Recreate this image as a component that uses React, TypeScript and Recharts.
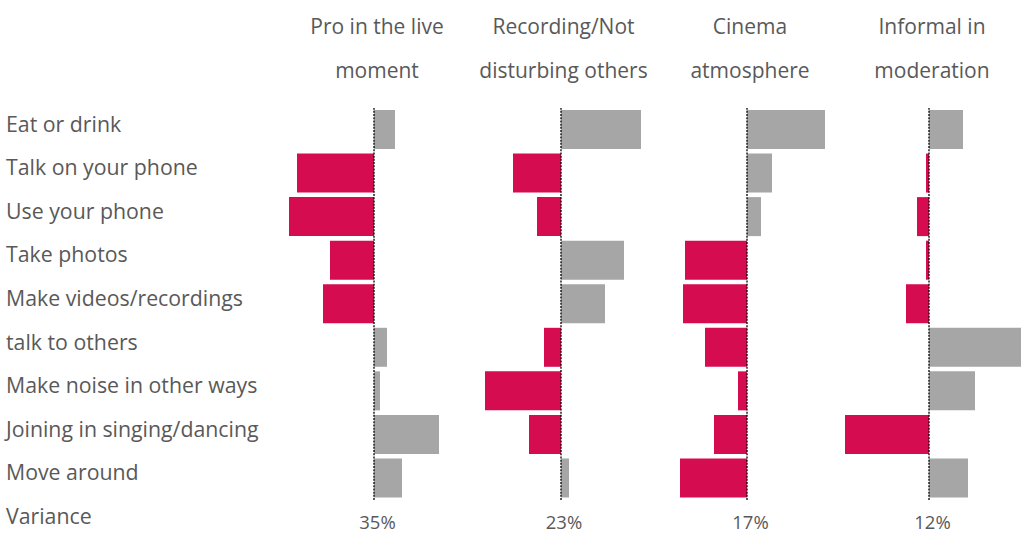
import { BarChart, Bar, XAxis, YAxis, ReferenceLine, Cell } from 'recharts'

const categories = [
  'Eat or drink',
  'Talk on your phone',
  'Use your phone',
  'Take photos',
  'Make videos/recordings',
  'talk to others',
  'Make noise in other ways',
  'Joining in singing/dancing',
  'Move around',
]

const proLive = [0.21, -0.77, -0.85, -0.44, -0.51, 0.13, 0.06, 0.65, 0.28]
const recording = [0.8, -0.48, -0.24, 0.63, 0.44, -0.17, -0.76, -0.32, 0.08]
const cinema = [0.78, 0.25, 0.14, -0.62, -0.64, -0.42, -0.09, -0.33, -0.67]
const informal = [0.34, -0.03, -0.12, -0.03, -0.23, 0.92, 0.46, -0.84, 0.39]

const factorTitles = [
  ['Pro in the live', 'moment'],
  ['Recording/Not', 'disturbing others'],
  ['Cinema', 'atmosphere'],
  ['Informal in', 'moderation'],
]
const variance = ['35%', '23%', '17%', '12%']

const NEG = '#D60C51'
const POS = '#A6A6A6'
const TEXT = '#595959'
const FONT = '"Open Sans", sans-serif'

const TOP = 108
const ROW = 43.56
const PANEL_W = 186
const zeros = [374, 560.5, 747, 929]

interface PanelProps {
  values: number[]
  left: number
}

function Panel({ values, left }: PanelProps) {
  const data = categories.map((cat, i) => ({ cat, v: values[i] }))
  return (
    <div style={{ position: 'absolute', left, top: TOP }}>
      <BarChart
        width={PANEL_W}
        height={ROW * categories.length}
        data={data}
        layout="vertical"
        margin={{ top: 0, right: 0, bottom: 0, left: 0 }}
      >
        <XAxis type="number" domain={[-0.93, 0.93]} hide />
        <YAxis type="category" dataKey="cat" hide />
        <Bar dataKey="v" barSize={39} isAnimationActive={false}>
          {data.map((d, i) => (
            <Cell key={i} fill={d.v < 0 ? NEG : POS} />
          ))}
        </Bar>
        <ReferenceLine x={0} stroke="#000" strokeWidth={1.3} strokeDasharray="2 1.2" />
      </BarChart>
    </div>
  )
}

export default function App() {
  const panels = [proLive, recording, cinema, informal]
  return (
    <div
      style={{
        position: 'absolute',
        left: 0,
        top: 0,
        width: 1024,
        height: 546,
        background: '#fff',
        fontFamily: FONT,
        color: TEXT,
        overflow: 'hidden',
      }}
    >
      {categories.concat(['Variance']).map((c, i) => (
        <div
          key={c}
          style={{
            position: 'absolute',
            left: 6,
            top: TOP + ROW * i - 6.3,
            height: ROW,
            lineHeight: `${ROW}px`,
            fontSize: 21.3,
            whiteSpace: 'nowrap',
          }}
        >
          {c}
        </div>
      ))}

      {panels.map((p, i) => (
        <Panel key={i} values={p} left={zeros[i] - PANEL_W / 2} />
      ))}

      {factorTitles.map((t, i) => (
        <div
          key={i}
          style={{
            position: 'absolute',
            left: zeros[i] + 3 - 100,
            width: 200,
            top: 5.2,
            textAlign: 'center',
            fontSize: 21,
            lineHeight: `${ROW}px`,
          }}
        >
          {t.map((line) => (
            <div key={line}>{line}</div>
          ))}
        </div>
      ))}

      {variance.map((v, i) => (
        <div
          key={v}
          style={{
            position: 'absolute',
            left: zeros[i] + 3.5 - 40,
            width: 80,
            top: 522 - 15,
            height: 30,
            lineHeight: '30px',
            textAlign: 'center',
            fontSize: 18.5,
          }}
        >
          {v}
        </div>
      ))}
    </div>
  )
}
